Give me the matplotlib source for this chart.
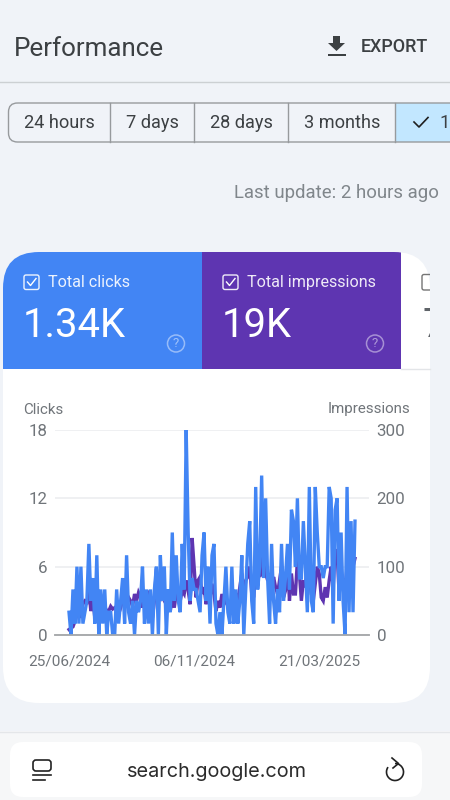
import matplotlib
matplotlib.use("Agg")
import matplotlib.pyplot as plt
from matplotlib.patches import FancyBboxPatch, Rectangle, Circle, Polygon, Arc

plt.rcParams["font.family"] = ["Roboto", "DejaVu Sans"]

# Values
clicks = [2, 0, 4, 1, 6, 1, 6, 1, 2, 3,
          8, 3, 5, 1, 7, 0, 4, 1, 4, 0,
          2, 2, 0, 0, 4, 1, 3, 5, 1, 7,
          2, 1, 3, 0, 3, 2, 3, 6, 1, 4,
          1, 4, 0, 4, 6, 0, 7, 3, 6, 0,
          4, 2, 9, 3, 7, 3, 2, 8, 4, 18,
          9, 3, 5, 4, 4, 3, 2, 7, 9, 3,
          6, 1, 7, 8, 1, 0, 2, 0, 3, 6,
          2, 1, 6, 1, 4, 1, 3, 7, 0, 4,
          8, 10, 3, 1, 13, 4, 6, 14, 5, 12,
          5, 1, 8, 3, 1, 4, 2, 8, 3, 5,
          8, 4, 11, 10, 6, 12, 5, 5, 10, 6,
          2, 13, 3, 2, 13, 9, 6, 6, 5, 6,
          6, 13, 12, 1, 11, 12, 3, 9, 3, 0,
          13, 2, 10, 2, 10]
impressions = [8, 10, 12, 20, 30, 40, 25, 45, 50, 48,
               65, 35, 55, 25, 22, 40, 30, 38, 42, 35,
               35, 42, 38, 40, 35, 45, 40, 50, 55, 48,
               55, 50, 42, 60, 50, 62, 55, 40, 60, 45,
               65, 40, 25, 50, 97, 60, 55, 70, 50, 45,
               45, 35, 55, 40, 60, 55, 50, 65, 60, 80,
               65, 45, 142, 100, 55, 80, 85, 60, 70, 45,
               60, 55, 75, 60, 35, 50, 40, 60, 45, 55,
               40, 30, 50, 35, 60, 50, 70, 90, 55, 80,
               85, 100, 60, 55, 95, 110, 85, 95, 130, 90,
               80, 90, 60, 85, 70, 60, 80, 100, 55, 65,
               110, 50, 90, 60, 60, 110, 90, 50, 80, 70,
               105, 85, 60, 50, 75, 100, 90, 55, 50, 70,
               55, 80, 100, 70, 125, 120, 60, 90, 80, 65,
               100, 70, 85, 100, 112]
date_ticks = [0, 63, 126]
date_labels = ["25/06/2024", "06/11/2024", "21/03/2025"]
clicks_ticks = [0, 6, 12, 18]
impressions_ticks = [0, 100, 200, 300]
ranges = ["24 hours", "7 days", "28 days", "3 months"]
range_edges = [8, 110, 194, 288, 395]

BG = "#f0f3f8"
BLUE = "#4285f4"
PURPLE = "#5e35b1"
GREY = "#5f6368"
DARK = "#3c4043"

W, H = 450, 800
fig = plt.figure(figsize=(4.5, 8), dpi=100, facecolor=BG)

# page furniture in pixel coordinates
ui = fig.add_axes([0, 0, 1, 1])
ui.set_xlim(0, W)
ui.set_ylim(H, 0)
ui.axis("off")

ui.text(14, 48.5, "Performance", fontsize=18.7, color=DARK, va="center")
ui.plot([0, W], [82, 82], color="#ccd0d3", lw=1)

# export icon
ui.add_patch(Polygon([[333, 36], [340, 36], [340, 43], [345, 43], [336.5, 51],
                      [328, 43], [333, 43]], color=DARK, lw=0))
ui.add_patch(Rectangle((327.5, 54), 18, 2, color=DARK, lw=0))
ui.text(361, 47.5, "EXPORT", fontsize=12.9, color=DARK, va="center", weight="medium")

# range selector
ui.add_patch(Rectangle((395, 103), 60, 39, color="#c2e7ff", lw=0))
ui.add_patch(FancyBboxPatch((8.5, 103), 480, 39, boxstyle="round,pad=0,rounding_size=9",
                            fc="none", ec="#979a9d", lw=1))
for edge in range_edges[1:]:
    ui.plot([edge, edge], [103, 142], color="#979a9d", lw=1)
for i, name in enumerate(ranges):
    ui.text((range_edges[i] + range_edges[i + 1]) / 2 + 0.5, 122.5, name, fontsize=13.1,
            color=DARK, ha="center", va="center")
ui.plot([414, 419, 428], [122, 127, 117.5], color="#1f1f1f", lw=1.2)
ui.text(449.5, 122.5, "1", fontsize=13.1, color=DARK, ha="right", va="center")
ui.text(439, 193.5, "Last update: 2 hours ago", fontsize=13.4, color="#80868b",
        ha="right", va="center")

# card
card = FancyBboxPatch((3, 252), 427, 451, boxstyle="round,pad=0,rounding_size=36",
                      fc="white", ec="none")
ui.add_patch(card)
for x0, w, color in [(3, 199, BLUE), (202, 199, PURPLE)]:
    tile = Rectangle((x0, 252), w, 117, color=color, lw=0)
    ui.add_patch(tile)
    tile.set_clip_path(card)
ui.plot([401, 430], [368.5, 368.5], color="#e3e5e8", lw=1)

for x0, title, total in [(23, "Total clicks", "1.34K"), (222, "Total impressions", "19K")]:
    ui.add_patch(FancyBboxPatch((x0 + 1, 275), 15, 14.5, boxstyle="round,pad=0,rounding_size=2",
                                fc="none", ec="white", lw=1, alpha=0.9))
    ui.plot([x0 + 4.5, x0 + 7.5, x0 + 13], [282, 285.5, 278.5], color="white", lw=1)
    ui.text(x0 + 25, 282.5, title, fontsize=11.6, color="white", alpha=0.9, va="center")
    ui.text(x0, 325.5, total, fontsize=28.8, color="white", va="center")
    ui.add_patch(Circle((x0 + 153, 343.5), 8.5, fc="none", ec="white", lw=1.1, alpha=0.45))
    ui.text(x0 + 153, 343.5, "?", fontsize=9.5, color="white", alpha=0.5, ha="center", va="center")

# cut off third tile
cut = Rectangle((420, 260), 10, 100, transform=ui.transData)
box3 = FancyBboxPatch((422, 274.5), 16, 15.5, boxstyle="round,pad=0,rounding_size=2",
                      fc="none", ec="#757575", lw=1)
ui.add_patch(box3)
box3.set_clip_path(cut)
t3 = ui.text(422, 325.5, "7", fontsize=28.8, color=GREY, va="center", clip_on=True)
t3.set_clip_path(cut)

# bottom browser bar
ui.add_patch(Rectangle((0, 731), W, 69, color="#f6f7f8", lw=0))
ui.plot([0, W], [731.5, 731.5], color="#e4e6e9", lw=1)
ui.add_patch(FancyBboxPatch((10, 742), 412, 55, boxstyle="round,pad=0,rounding_size=13",
                            fc="white", ec="none"))
ui.text(216.5, 772, "search.google.com", fontsize=14.3, color="#2b2b2b", ha="center", va="center",
        family=["Inter", "DejaVu Sans"])
ui.add_patch(FancyBboxPatch((33, 760), 18, 11, boxstyle="round,pad=0,rounding_size=3",
                            fc="none", ec="#222222", lw=1.2))
ui.plot([33, 51], [775, 775], color="#222222", lw=1.2)
ui.plot([33, 45], [780, 780], color="#222222", lw=1.2)
ui.add_patch(Arc((395, 772), 17, 17, theta1=-90, theta2=215, color="#222222", lw=1.2))
ui.plot([392, 398.5, 393], [758, 763.5, 768], color="#222222", lw=1.2)

# chart: gridlines span x 55-369, y 430-635
ax = fig.add_axes([55 / W, 1 - 635 / H, (369 - 55) / W, (635 - 430) / H])
ax2 = ax.twinx()
ax.set_zorder(2)
ax2.set_zorder(1)
ax.patch.set_visible(False)
ax2.patch.set_visible(False)

days = list(range(len(clicks)))
step = (355 - 69) / (len(clicks) - 1)
xlim = (-(69 - 55) / step, (len(clicks) - 1) + (369 - 355) / step)

ax2.plot(days, impressions, color=PURPLE, lw=2.4, solid_joinstyle="miter")
ax.plot(days, clicks, color=BLUE, lw=2.4, solid_joinstyle="miter")

ax.set_xlim(xlim)
ax2.set_xlim(xlim)
ax.set_ylim(0, 18)
ax2.set_ylim(0, 300)
ax.set_yticks(clicks_ticks)
ax2.set_yticks(impressions_ticks)
ax.set_xticks(date_ticks)
ax.set_xticklabels(date_labels)
ax.tick_params(axis="x", length=0, pad=14, labelsize=11.1, labelcolor="#70757a")
ax.tick_params(axis="y", length=0, pad=5.5, labelsize=12.2, labelcolor="#70757a")
ax2.tick_params(axis="y", length=0, pad=5.5, labelsize=12.2, labelcolor="#70757a")
for a in (ax, ax2):
    for side in ("top", "left", "right"):
        a.spines[side].set_visible(False)
    a.spines["bottom"].set_color("#a9abad")
    a.spines["bottom"].set_linewidth(1.2)
ax2.grid(True, axis="y", color="#eceef0", lw=1.2)
ax2.set_axisbelow(True)

ui.text(23, 409.5, "Clicks", fontsize=10.8, color="#70757a", va="center")
ui.text(410, 409.5, "Impressions", fontsize=10.9, color="#70757a", ha="right", va="center")

fig.savefig("out.png", dpi=100, facecolor=BG)
